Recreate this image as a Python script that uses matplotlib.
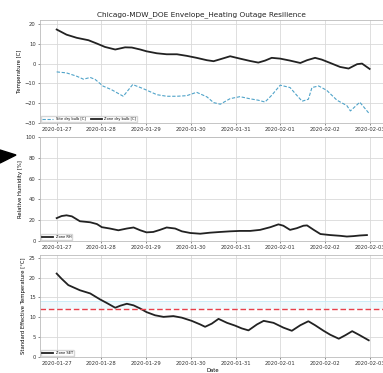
import matplotlib
matplotlib.use("Agg")
import matplotlib.pyplot as plt
import matplotlib.dates as mdates
from matplotlib.patches import Polygon
import pandas as pd
import numpy as np

start = pd.Timestamp("2020-01-27")

# --- data (day offsets from 2020-01-27 00:00 and values) ---
zone_t = [0, 0.22, 0.45, 0.71, 0.90, 1.08, 1.31, 1.53, 1.68, 1.87, 2.01, 2.24, 2.46, 2.69,
          2.91, 3.13, 3.36, 3.51, 3.66, 3.88, 4.10, 4.33, 4.51, 4.66, 4.81, 5.0, 5.22,
          5.45, 5.60, 5.78, 5.93, 6.12, 6.34, 6.53, 6.72, 6.83, 7.0]
zone_db = [17.2, 14.6, 13.0, 11.8, 10.1, 8.4, 7.1, 8.2, 8.1, 7.1, 6.2, 5.2, 4.7, 4.7,
           3.9, 2.9, 1.7, 1.2, 2.2, 3.7, 2.5, 1.3, 0.5, 1.5, 2.9, 2.5, 1.5,
           0.3, 1.7, 2.9, 2.0, 0.3, -1.7, -2.5, -0.3, 0.0, -2.7]

site_t = [0, 0.22, 0.45, 0.60, 0.75, 0.86, 1.04, 1.22, 1.49, 1.70, 1.93, 2.24, 2.46, 2.69,
          2.91, 3.13, 3.36, 3.51, 3.66, 3.88, 4.10, 4.33, 4.51, 4.66, 4.81, 5.0, 5.22,
          5.37, 5.49, 5.63, 5.71, 5.86, 6.04, 6.27, 6.49, 6.57, 6.78, 7.0]
site_db = [-4.2, -4.7, -6.4, -7.9, -7.0, -8.0, -11.4, -13.1, -16.5, -10.6, -12.6, -15.7, -16.5, -16.5,
           -16.2, -14.5, -16.8, -19.7, -20.5, -17.7, -16.7, -17.8, -18.5, -19.4, -16.0, -10.9, -12.1,
           -16.0, -19.0, -18.0, -12.1, -11.3, -13.5, -18.5, -21.2, -23.9, -19.5, -25.5]

rh_t = [0, 0.11, 0.22, 0.34, 0.52, 0.75, 0.90, 1.01, 1.19, 1.38, 1.57, 1.72, 1.87, 2.01,
        2.16, 2.31, 2.46, 2.65, 2.80, 2.99, 3.21, 3.43, 3.66, 3.88, 4.10, 4.33, 4.55,
        4.78, 4.96, 5.07, 5.22, 5.37, 5.52, 5.60, 5.75, 5.90, 6.12, 6.34, 6.49, 6.64,
        6.78, 6.94]
rh = [22, 24, 24.7, 23.7, 19, 18, 16.3, 13.3, 12, 10.3, 12, 13, 10.3, 8.3,
      8.7, 10.7, 13, 12, 9.3, 7.7, 7, 8, 8.7, 9.3, 9.7, 9.7, 10.7,
      13.3, 16, 14.7, 10.7, 12.3, 14.7, 15, 10.7, 6.7, 5.7, 5, 4.3, 4.7,
      5.3, 5.7]

set_t = [0, 0.11, 0.26, 0.52, 0.75, 0.97, 1.12, 1.31, 1.42, 1.57, 1.72, 1.87, 2.01, 2.20,
         2.39, 2.61, 2.80, 3.02, 3.21, 3.32, 3.47, 3.62, 3.81, 3.99, 4.14, 4.29, 4.48,
         4.63, 4.85, 5.07, 5.26, 5.45, 5.63, 5.78, 5.97, 6.12, 6.31, 6.46, 6.61, 6.76,
         6.98]
set_v = [21.0, 19.7, 18.1, 16.8, 16.0, 14.5, 13.6, 12.4, 12.9, 13.4, 13.0, 12.2, 11.3, 10.5,
         10.1, 10.3, 9.9, 9.1, 8.2, 7.6, 8.4, 9.6, 8.6, 7.9, 7.2, 6.7, 8.2,
         9.1, 8.6, 7.4, 6.6, 8.0, 9.0, 8.0, 6.6, 5.6, 4.6, 5.5, 6.5, 5.6,
         4.2]

set_threshold = 12.2

title = "Chicago-MDW_DOE Envelope_Heating Outage Resilience"


def to_dates(ts):
    return [start + pd.Timedelta(days=d) for d in ts]


W, H = 383, 373
fig = plt.figure(figsize=(W / 100, H / 100), dpi=100)
fig.patch.set_facecolor("white")

left_px, right_px = 40, 386.3


def add_ax(top_px, bottom_px):
    return fig.add_axes([left_px / W, 1 - bottom_px / H,
                         (right_px - left_px) / W, (bottom_px - top_px) / H])


ax1 = add_ax(20, 123)
ax2 = add_ax(137, 241)
ax3 = add_ax(254.5, 357)

xmin = start - pd.Timedelta(days=0.373)
xmax = start + pd.Timedelta(days=7.373)

fs = 3.8
for ax in (ax1, ax2, ax3):
    ax.set_xlim(xmin, xmax)
    ax.xaxis.set_major_locator(mdates.DayLocator())
    ax.xaxis.set_major_formatter(mdates.DateFormatter("%Y-%m-%d"))
    ax.grid(True, color="#d9d9d9", linewidth=0.6)
    ax.set_axisbelow(True)
    ax.tick_params(labelsize=fs, length=1.5, width=0.4, pad=1.5, colors="#333333")
    for s in ax.spines.values():
        s.set_color("#bbbbbb")
        s.set_linewidth(0.6)

# top panel
ax1.plot(to_dates(site_t), site_db, color="#4fa3c9", lw=0.8, ls=(0, (3, 1.5)),
         label="Site dry bulb [C]")
ax1.plot(to_dates(zone_t), zone_db, color="#222222", lw=1.3, label="Zone dry bulb [C]")
ax1.set_ylim(-30, 22)
ax1.set_yticks([-30, -20, -10, 0, 10, 20])
ax1.set_ylabel("Temperature [C]", fontsize=fs, labelpad=2)
ax1.set_title(title, fontsize=5.3, pad=3, color="#222222", x=(201 - left_px) / (right_px - left_px))
ax1.legend(loc="lower left", ncol=2, fontsize=2.6, frameon=True, borderpad=0.3,
           handlelength=3, columnspacing=1.5, borderaxespad=0.2, framealpha=0.8)

# middle panel
ax2.plot(to_dates(rh_t), rh, color="#222222", lw=1.3, label="Zone RH")
ax2.set_ylim(0, 100)
ax2.set_yticks([0, 20, 40, 60, 80, 100])
ax2.set_ylabel("Relative Humidity [%]", fontsize=fs, labelpad=2)
ax2.legend(loc="lower left", fontsize=2.6, frameon=True, borderpad=0.3,
           handlelength=3, borderaxespad=0.2, framealpha=0.8)

# bottom panel
ax3.axhspan(set_threshold, 14.0, color="#e3f4fa", alpha=0.5, lw=0)
ax3.axhline(14.0, color="#bfe6f2", lw=0.5)
ax3.plot(to_dates(set_t), set_v, color="#222222", lw=1.3, label="Zone SET")
ax3.axhline(set_threshold, color="#e8404a", lw=1.0, ls=(0, (4, 2)))
ax3.set_ylim(0, 25.8)
ax3.set_yticks([0, 5, 10, 15, 20, 25])
ax3.set_ylabel("Standard Effective Temperature [°C]", fontsize=fs, labelpad=2)
ax3.set_xlabel("Date", fontsize=fs, labelpad=1)
ax3.legend(loc="lower left", fontsize=2.6, frameon=True, borderpad=0.3,
           handlelength=3, borderaxespad=0.2, framealpha=0.8)

# arrow fragment on the left edge
arrow = Polygon([(0 / W, 1 - 150 / H), (0 / W, 1 - 163 / H), (16 / W, 1 - 155 / H)],
                closed=True, transform=fig.transFigure, color="black")
fig.patches.append(arrow)

fig.savefig("out.png", dpi=100)
